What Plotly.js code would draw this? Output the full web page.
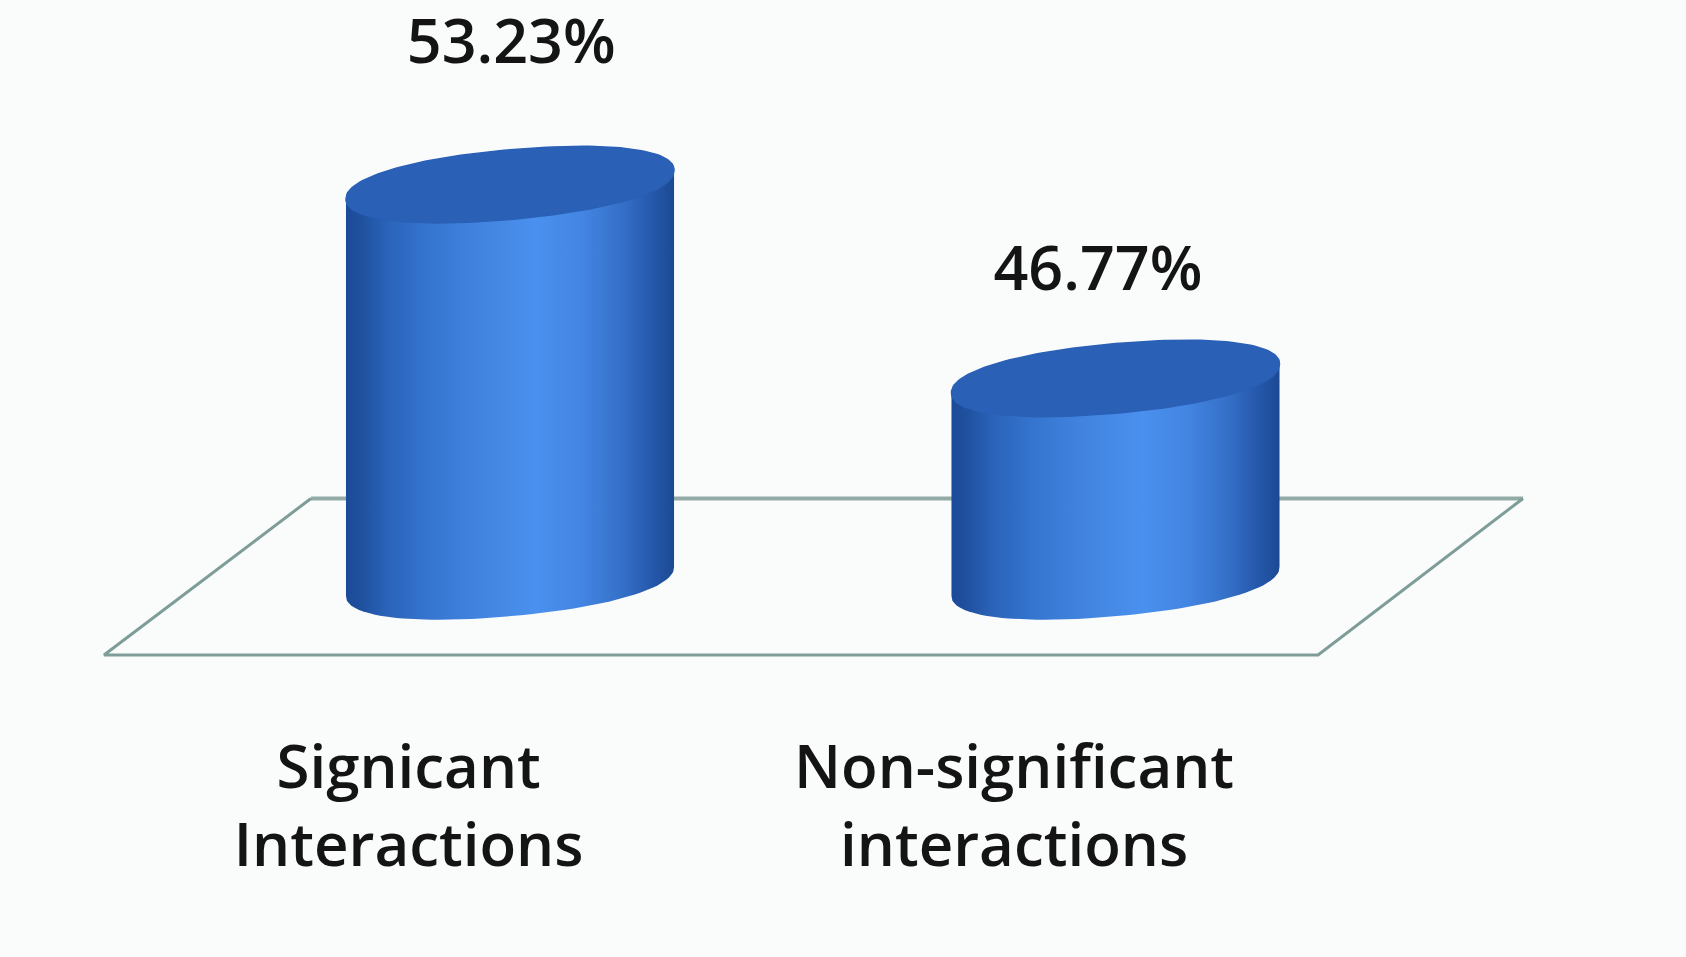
<!DOCTYPE html>
<html>
<head>
<meta charset="utf-8">
<script src="https://cdn.plot.ly/plotly-3.0.1.min.js"></script>
<style>html,body{margin:0;padding:0;background:#fafcfc;overflow:hidden}</style>
</head>
<body>
<div id="chart" style="width:1686px;height:957px"></div>
<script>
const categoryLabels = ["Signicant<br>Interactions", "Non-significant<br>interactions"];
const percentages = [53.23, 46.77];
const valueLabels = ["53.23%", "46.77%"];
const barPositions = [0, 1];

const axisBase = 40;
const halfWidth = 0.2709;   // x-axis units
const tilt = 0.48;          // y-axis units: rise of the ellipse from centre to right edge
const depth = 1.16;         // y-axis units: vertical semi-axis of the ellipse
const floorFrontX = [-0.3287, -0.6705, 1.3345, 1.6730];
const floorFrontY = [42.767, 37.55, 37.55, 42.767];
const floorBackX = [-0.3287, 1.6730];
const floorBackY = [42.767, 42.767];
const tickOffset = -0.1675;
const labelShift = [{x: 0.002, y: 4.56}, {x: -0.029, y: 3.45}];

function ellipsePoint(cx, cy, t) {
  const c = Math.cos(t), s = Math.sin(t);
  const fc = Math.sign(c) * Math.pow(Math.abs(c), 0.92);
  const fs = Math.sign(s) * Math.pow(Math.abs(s), 0.92);
  return [cx + halfWidth * fc, cy + tilt * fc - depth * fs];
}
function arc(cx, cy, from, to, n) {
  const xs = [], ys = [];
  for (let i = 0; i <= n; i++) {
    const p = ellipsePoint(cx, cy, from + (to - from) * i / n);
    xs.push(p[0]); ys.push(p[1]);
  }
  return [xs, ys];
}

const bodyScale = [
  [0, "#1b4a98"], [0.05, "#1f519f"], [0.12, "#2a62b8"], [0.25, "#3575d0"], [0.42, "#4285e0"],
  [0.58, "#4a90ee"], [0.72, "#4385e2"], [0.84, "#3570c8"], [0.93, "#2659ad"], [1, "#1b4993"]
];

const traces = [{
  x: floorBackX, y: floorBackY, mode: "lines", hoverinfo: "skip", showlegend: false,
  line: {color: "#93aba7", width: 4}
}, {
  x: floorFrontX, y: floorFrontY, mode: "lines", hoverinfo: "skip", showlegend: false,
  line: {color: "#7f9d98", width: 3}
}];

percentages.forEach((v, i) => {
  const cx = barPositions[i];
  const bottom = arc(cx, axisBase, Math.PI, 0, 60);   // lower half, left to right
  const bodyX = bottom[0].concat([cx + halfWidth, cx - halfWidth, cx - halfWidth]);
  const bodyY = bottom[1].concat([v + tilt, v - tilt, axisBase - tilt]);
  traces.push({
    x: bodyX, y: bodyY, mode: "lines", fill: "toself", hoverinfo: "skip", showlegend: false,
    line: {width: 0, color: "rgba(0,0,0,0)"},
    fillgradient: {type: "horizontal", colorscale: bodyScale, start: cx - halfWidth, stop: cx + halfWidth}
  });
  const top = arc(cx, v, 0, 2 * Math.PI, 160);
  traces.push({
    x: top[0], y: top[1], mode: "lines", fill: "toself", hoverinfo: "skip", showlegend: false,
    fillcolor: "#2a60b6", line: {width: 1.5, color: "#2a60b6"}
  });
});

traces.push({
  x: barPositions.map((c, i) => c + labelShift[i].x),
  y: percentages.map((v, i) => v + labelShift[i].y),
  text: valueLabels, mode: "text", textposition: "middle center",
  hoverinfo: "skip", showlegend: false, cliponaxis: false,
  textfont: {family: "Open Sans", size: 61, color: "#141414", weight: 600}
});

const layout = {
  width: 1686, height: 957,
  margin: {l: 0, r: 0, t: 0, b: 257, pad: 0},
  paper_bgcolor: "#fafcfc", plot_bgcolor: "#fafcfc",
  showlegend: false,
  xaxis: {
    range: [-0.8423, 1.9422], showgrid: false, zeroline: false, showline: false,
    tickmode: "array", tickvals: barPositions.map(c => c + tickOffset), ticktext: categoryLabels,
    ticks: "outside", ticklen: 15, tickcolor: "rgba(0,0,0,0)",
    tickfont: {family: "Open Sans", size: 60, color: "#141414", weight: 600},
    tickangle: 0, fixedrange: true
  },
  yaxis: {range: [36.05, 59.383], visible: false, fixedrange: true}
};

Plotly.newPlot("chart", traces, layout, {displayModeBar: false, responsive: false});
</script>
</body>
</html>
